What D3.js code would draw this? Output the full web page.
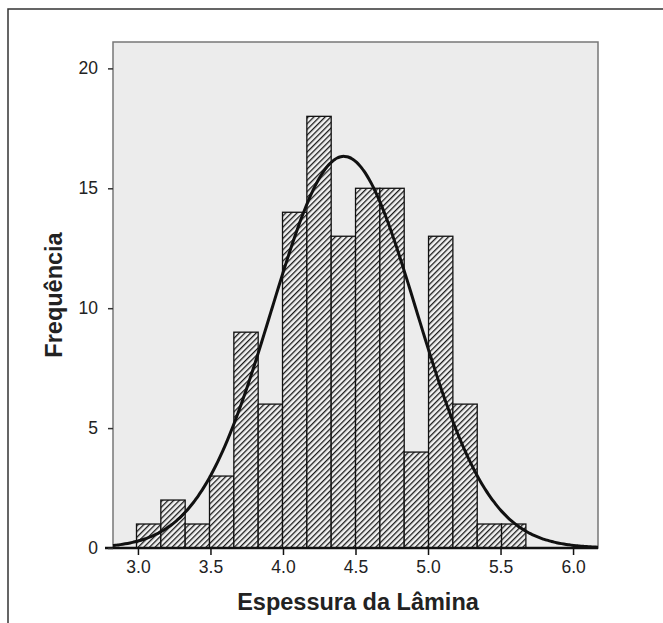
<!DOCTYPE html>
<html>
<head>
<meta charset="utf-8">
<script src="https://cdn.jsdelivr.net/npm/d3@7"></script>
<style>
  body { margin: 0; background: #fff; }
  text { font-family: "Liberation Sans", Arial, sans-serif; }
</style>
</head>
<body>
<svg id="chart" width="663" height="623"></svg>
<script>
// bins of the histogram (lower edge of first bin, width of each bin)
const binStart = 2.99;
const binWidth = 0.1678;
const counts = [1, 2, 1, 3, 9, 6, 14, 18, 13, 15, 15, 4, 13, 6, 1, 1];

// fitted normal curve
const mean = 4.42;
const sd = 0.50;

const xTicks = [3.0, 3.5, 4.0, 4.5, 5.0, 5.5, 6.0];
const yTicks = [0, 5, 10, 15, 20];

const svg = d3.select("#chart");

// plot area
const plotL = 113, plotR = 598, plotT = 42, plotB = 548;

const x = d3.scaleLinear().domain([2.828, 6.172]).range([plotL, plotR]);
const y = d3.scaleLinear().domain([0, 21.1]).range([plotB, plotT]);

// hatch pattern for the bars
const defs = svg.append("defs");
const pat = defs.append("pattern")
    .attr("id", "hatch")
    .attr("patternUnits", "userSpaceOnUse")
    .attr("width", 4)
    .attr("height", 4)
    .attr("patternTransform", "rotate(45)");
pat.append("rect").attr("width", 4).attr("height", 4).attr("fill", "#f2f2f2");
pat.append("line")
    .attr("x1", 0).attr("y1", 0).attr("x2", 0).attr("y2", 4)
    .attr("stroke", "#1a1a1a").attr("stroke-width", 2.6);

// outer frame (only top and left show)
svg.append("path")
    .attr("d", "M8,623 V9 H663")
    .attr("fill", "none")
    .attr("stroke", "#333")
    .attr("stroke-width", 1.5);

// plot background
svg.append("rect")
    .attr("x", plotL).attr("y", plotT)
    .attr("width", plotR - plotL).attr("height", plotB - plotT)
    .attr("fill", "#ececec")
    .attr("stroke", "#777")
    .attr("stroke-width", 1.5);

// bars
const bins = counts.map((c, i) => ({ x0: binStart + i * binWidth, x1: binStart + (i + 1) * binWidth, n: c }));
svg.append("g")
    .selectAll("rect")
    .data(bins)
    .enter().append("rect")
    .attr("x", d => x(d.x0))
    .attr("y", d => y(d.n))
    .attr("width", d => x(d.x1) - x(d.x0))
    .attr("height", d => y(0) - y(d.n))
    .attr("fill", "url(#hatch)")
    .attr("stroke", "#111")
    .attr("stroke-width", 1.3);

// normal curve scaled to counts
const total = d3.sum(counts);
const pdf = v => total * binWidth / (sd * Math.sqrt(2 * Math.PI)) * Math.exp(-((v - mean) ** 2) / (2 * sd * sd));
const xs = d3.range(200).map(i => x.domain()[0] + i * (x.domain()[1] - x.domain()[0]) / 199);
svg.append("path")
    .datum(xs)
    .attr("d", d3.line().x(v => x(v)).y(v => y(pdf(v))).curve(d3.curveBasis))
    .attr("fill", "none")
    .attr("stroke", "#111")
    .attr("stroke-width", 3);

// x axis
const xAxis = svg.append("g")
    .attr("transform", `translate(0,${plotB})`)
    .call(d3.axisBottom(x).tickValues(xTicks).tickFormat(d3.format(".1f")).tickSize(7).tickSizeOuter(0));
xAxis.select(".domain").attr("stroke", "#111").attr("stroke-width", 2.5).attr("d", `M${plotL - 8},0H${plotR}`);
xAxis.selectAll(".tick line").attr("stroke", "#111").attr("stroke-width", 1.5);
xAxis.selectAll(".tick text").attr("font-size", 17.5).attr("fill", "#222").attr("dy", "0.85em");

// y axis
const yAxis = svg.append("g")
    .attr("transform", `translate(${plotL},0)`)
    .call(d3.axisLeft(y).tickValues(yTicks).tickSize(5).tickSizeOuter(0));
yAxis.select(".domain").remove();
yAxis.selectAll(".tick line").attr("stroke", "#333").attr("stroke-width", 1.5);
yAxis.selectAll(".tick text").attr("font-size", 17.5).attr("fill", "#222").attr("x", -15);

// axis titles
svg.append("text")
    .attr("x", 358).attr("y", 610)
    .attr("text-anchor", "middle")
    .attr("font-size", 23.5)
    .attr("font-weight", "bold")
    .attr("fill", "#222")
    .text("Espessura da Lâmina");

svg.append("text")
    .attr("transform", "translate(62,295) rotate(-90)")
    .attr("text-anchor", "middle")
    .attr("font-size", 23.5)
    .attr("font-weight", "bold")
    .attr("fill", "#222")
    .text("Frequência");
</script>
</body>
</html>
